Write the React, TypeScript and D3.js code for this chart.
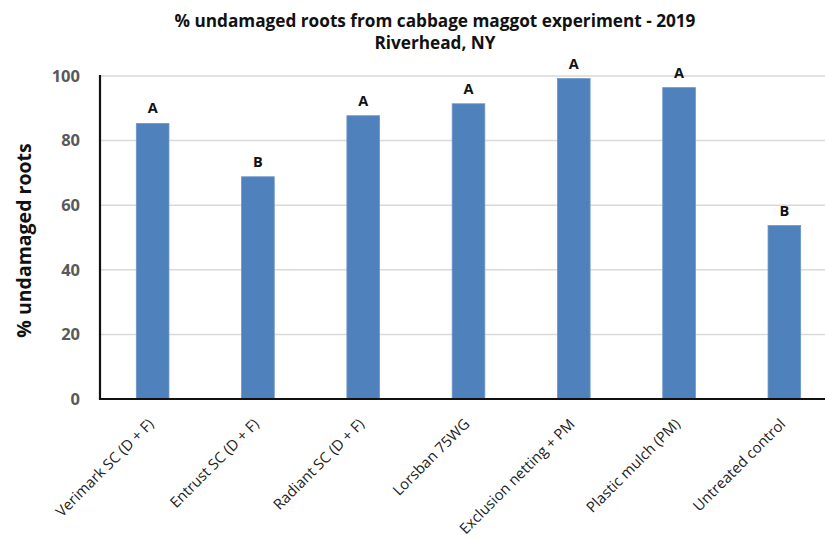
import React from "react";
import * as d3 from "d3";

const categories = [
  "Verimark SC (D + F)",
  "Entrust SC (D + F)",
  "Radiant SC (D + F)",
  "Lorsban 75WG",
  "Exclusion netting + PM",
  "Plastic mulch (PM)",
  "Untreated control",
];
const values = [85.3, 68.8, 87.7, 91.4, 99.2, 96.4, 53.7];
const letters = ["A", "B", "A", "A", "A", "A", "B"];
const yTicks = [0, 20, 40, 60, 80, 100];

const W = 825;
const H = 540;
const FONT = "Open Sans, Liberation Sans, sans-serif";

export default function App() {
  const x = d3
    .scaleBand<string>()
    .domain(categories)
    .range([100, 837])
    .paddingInner(0.69)
    .paddingOuter(0.345);
  const y = d3.scaleLinear().domain([0, 100]).range([399, 76]);

  return (
    <svg
      width={W}
      height={H}
      style={{ position: "absolute", left: 0, top: 0, background: "#fff" }}
      fontFamily={FONT}
    >
      <rect x={0} y={0} width={W} height={H} fill="#fff" />
      <text x={435} y={27} textAnchor="middle" fontWeight="bold" fontSize={17.2} fill="#111">
        % undamaged roots from cabbage maggot experiment - 2019
      </text>
      <text x={435} y={49} textAnchor="middle" fontWeight="bold" fontSize={17.2} fill="#111">
        Riverhead, NY
      </text>
      {yTicks.map((t) => (
        <g key={t}>
          {t > 0 && (
            <line x1={100} x2={W} y1={y(t)} y2={y(t)} stroke="#d9d9d9" strokeWidth={1.5} />
          )}
          <text
            x={80}
            y={y(t)}
            dy="0.35em"
            textAnchor="end"
            fontWeight="bold"
            fontSize={16.5}
            fill="#595959"
          >
            {t}
          </text>
        </g>
      ))}
      <text
        transform={`translate(24,${y(50) + 3}) rotate(-90)`}
        textAnchor="middle"
        fontWeight="bold"
        fontSize={19.5}
        fill="#111"
        dy="0.35em"
      >
        % undamaged roots
      </text>
      {categories.map((c, i) => {
        const bx = x(c)!;
        const cx = bx + x.bandwidth() / 2;
        return (
          <g key={c}>
            <rect
              x={bx}
              y={y(values[i])}
              width={x.bandwidth()}
              height={y(0) - y(values[i])}
              fill="#4f81bd"
              stroke="#6d95c8"
              strokeWidth={0.8}
            />
            <text
              x={cx}
              y={y(values[i]) - 10}
              textAnchor="middle"
              fontWeight="bold"
              fontSize={14.5}
              fill="#111"
            >
              {letters[i]}
            </text>
            <text
              transform={`translate(${cx + 2},${y(0) + 26}) rotate(-45)`}
              textAnchor="end"
              fontSize={14.8}
              fill="#222"
            >
              {c}
            </text>
          </g>
        );
      })}
      <line x1={100} x2={100} y1={75} y2={400} stroke="#111" strokeWidth={2.2} />
      <line x1={99} x2={W} y1={399} y2={399} stroke="#111" strokeWidth={2.2} />
    </svg>
  );
}
